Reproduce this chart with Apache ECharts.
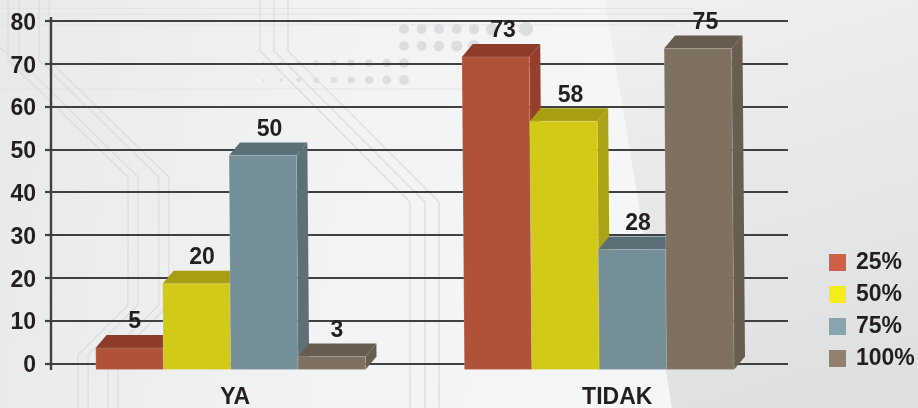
<!DOCTYPE html>
<html>
<head>
<meta charset="utf-8">
<style>html,body{margin:0;padding:0;background:#f1f2f3}#c{width:918px;height:408px}</style>
<script src="https://cdn.jsdelivr.net/npm/echarts@6/dist/echarts.min.js"></script>
</head>
<body>
<div id="c"></div>
<script>
const categories = ['YA', 'TIDAK'];
const seriesNames = ['25%', '50%', '75%', '100%'];
const v25 = [5, 73];
const v50 = [20, 58];
const v75 = [50, 28];
const v100 = [3, 75];
const allValues = [v25, v50, v75, v100];

const legendColors = ['#cf6046', '#f6ec1a', '#88a5ad', '#8f8070'];
const frontColors = ['#b0523a', '#d3ca18', '#749096', '#7f7160'];
const topColors = ['#8d3c2a', '#a89e12', '#5b7076', '#675c4e'];
const sideColors = ['#933f2b', '#aba414', '#5c7076', '#685d4f'];

const FONT = '"Liberation Sans", Arial, sans-serif';
const TEXT = '#231f20';

function renderBar(seriesIdx) {
  return function (params, api) {
    const cat = api.value(0);
    const val = api.value(1);
    const band = api.size([1, 0])[0];
    const w = band * 0.183;
    const center = api.coord([cat, 0])[0];
    const base = api.coord([cat, 0])[1] + 6;
    const top = api.coord([cat, val])[1] + 6;
    const left = center - 2 * w + seriesIdx * w - 4.5;
    const right = left + w;
    const dx = 11, dy = 13;
    const p = (x, y) => [x - (base - y) * 0.008, y];
    return {
      type: 'group',
      children: [
        { type: 'polygon', shape: { points: [p(right, base), p(right + dx, base - dy), p(right + dx, top - dy), p(right, top)] },
          style: { fill: sideColors[seriesIdx] } },
        { type: 'polygon', shape: { points: [p(left, top), p(left + dx, top - dy), p(right + dx, top - dy), p(right, top)] },
          style: { fill: topColors[seriesIdx] } },
        { type: 'polygon', shape: { points: [p(left, base), p(left, top), p(right, top), p(right, base)] },
          style: { fill: frontColors[seriesIdx], stroke: 'rgba(255,255,255,0.16)', lineWidth: 1 } },
        { type: 'text', z2: 50, style: { text: String(val), x: left + w / 2 + 5, y: top - dy - 13, align: 'center', verticalAlign: 'middle',
          font: 'bold 23px ' + FONT, fill: TEXT } }
      ]
    };
  };
}

// Decorative backdrop (not chart data)
const LINE = '#dcddde';
const traces = [
  [[78,408],[78,355],[128,305],[128,177],[8,60],[8,0]],
  [[88,408],[88,355],[138,305],[138,177],[19,60],[19,0]],
  [[108,408],[108,355],[158.7,305],[158.7,177],[39,60],[39,0]],
  [[118,408],[118,355],[168.7,305],[168.7,177],[49,60],[49,0]],
  [[260,0],[260,51],[410,202],[410,408]],
  [[274,0],[274,51],[425,202],[425,408]],
  [[288,0],[288,51],[439,202],[439,408]],
  [[0,47],[30,76]]
];
const hLines = [[0,693,8.5],[0,693,14],[0,676,25],[0,500,89]];
const dotRows = [
  [29, [[404,5],[421.7,5],[439,5],[456.7,5],[474,5.2],[491.7,6],[526,7]]],
  [46, [[404,4.8],[421.7,5],[439,5.2],[456.7,5.6],[474,6]]],
  [63, [[263,1.4],[281,1.8],[298.7,2.2],[316,2.7],[334,3],[351,3.4],[369,3.8],[386.7,4.2],[404,4.8]]],
  [80, [[228.7,.7],[246,1],[263.7,1.3],[281,1.7],[298.7,2.2],[316,2.7],[334,3.1],[351,3.5],[369,4],[386.7,4.4],[404,4.9]]]
];

const bg = [
  { type: 'rect', z: -10, silent: true, shape: { x: 0, y: 0, width: 918, height: 408 },
    style: { fill: { type: 'linear', x: 0, y: 0, x2: 1, y2: 0.3, colorStops: [
      { offset: 0, color: '#e8e9eb' }, { offset: 0.4, color: '#f2f3f4' }, { offset: 0.7, color: '#f5f6f7' }, { offset: 1, color: '#f5f6f7' }] } } },
  { type: 'polygon', z: -9, silent: true, shape: { points: [[605,0],[918,0],[918,408],[672,408]] },
    style: { fill: { type: 'linear', x: 0, y: 0, x2: 0.4, y2: 1, colorStops: [
      { offset: 0, color: '#f0f0f1' }, { offset: 0.5, color: '#e7e8ea' }, { offset: 1, color: '#dfe0e2' }] } } }
];
hLines.forEach(h => bg.push({ type: 'line', z: -8, silent: true, shape: { x1: h[0], x2: h[1], y1: h[2], y2: h[2] },
  style: { stroke: '#e3e4e6', lineWidth: 1.2 } }));
traces.forEach(t => bg.push({ type: 'polyline', z: -8, silent: true, shape: { points: t },
  style: { stroke: LINE, lineWidth: 1.3, fill: 'none' } }));
dotRows.forEach(r => r[1].forEach(d => bg.push({ type: 'circle', z: -8, silent: true, shape: { cx: d[0], cy: r[0], r: d[1] },
  style: { fill: '#dcdde0' } })));
// Extended vertical axis rule
bg.push({ type: 'line', z: 1, silent: true, shape: { x1: 51, x2: 51, y1: 17, y2: 370 }, style: { stroke: '#3f4042', lineWidth: 2.4 } });

const chart = echarts.init(document.getElementById('c'), null, { renderer: 'canvas' });
chart.setOption({
  animation: false,
  backgroundColor: 'transparent',
  graphic: { elements: bg },
  grid: { left: 51, right: 130, top: 21, bottom: 44.6, outerBoundsMode: 'none' },
  legend: {
    orient: 'vertical', left: 829, top: 251, padding: 0, icon: 'rect', itemWidth: 17, itemHeight: 17, itemGap: 9,
    data: seriesNames,
    selectedMode: false,
    textStyle: { fontFamily: FONT, fontWeight: 'bold', fontSize: 23, color: TEXT, padding: [0, 0, 0, 5] }
  },
  xAxis: {
    type: 'category', data: categories,
    axisLine: { show: false }, axisTick: { show: false },
    axisLabel: {
      margin: 23, fontFamily: FONT, fontWeight: 'bold', fontSize: 23, color: TEXT,
      formatter: v => v === 'TIDAK' ? '{t|' + v + '}' : v,
      rich: { t: { fontFamily: FONT, fontWeight: 'bold', fontSize: 23, color: TEXT, padding: [0, 0, 0, 27] } }
    }
  },
  yAxis: {
    type: 'value', min: 0, max: 80, interval: 10,
    axisLine: { show: false },
    axisTick: { show: true, length: 6, lineStyle: { color: '#3f4042', width: 2.2 } },
    axisLabel: {
      margin: 15, fontFamily: FONT, fontWeight: 'bold', fontSize: 23, color: TEXT,
      formatter: v => '{a|' + v + '}',
      rich: { a: { fontFamily: FONT, fontWeight: 'bold', fontSize: 23, color: TEXT, padding: [5, 0, 0, 0] } }
    },
    splitLine: { show: true, lineStyle: { color: '#3f4042', width: 2.2 } }
  },
  series: seriesNames.map((name, i) => ({
    type: 'custom', name, clip: false,
    itemStyle: { color: legendColors[i] },
    encode: { x: 0, y: 1 },
    renderItem: renderBar(i),
    data: allValues[i].map((v, c) => [c, v])
  }))
});
</script>
</body>
</html>
